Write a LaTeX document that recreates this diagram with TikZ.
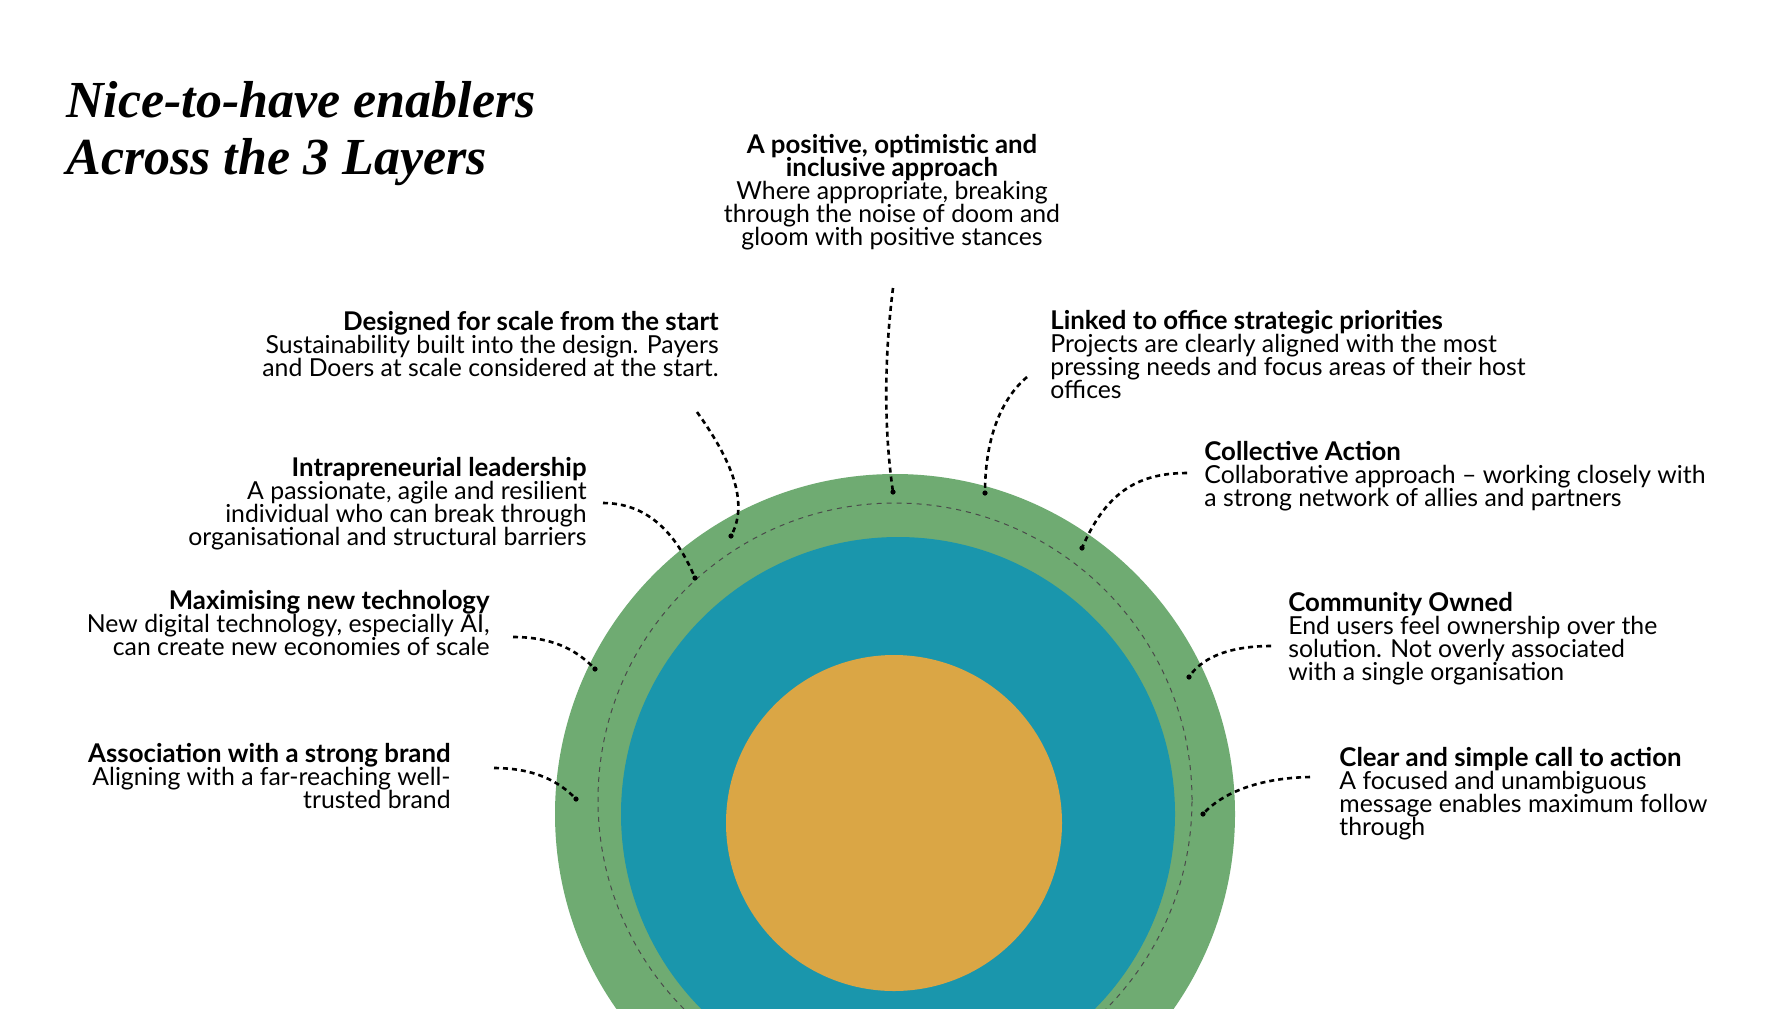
\documentclass[tikz,border=0pt]{standalone}
\usepackage{fontspec}
\setmainfont{Lato}
\newfontfamily\titlefont{Liberation Serif}
\usetikzlibrary{positioning}
\definecolor{ringgreen}{HTML}{6FAB72}
\definecolor{ringblue}{HTML}{1A96AC}
\definecolor{coreorange}{HTML}{DAA645}
\definecolor{guidegray}{HTML}{4A4A4A}
\newcommand{\hd}[1]{{\fontsize{12.9}{11.43}\selectfont\bfseries #1}}
\lineskiplimit=-20pt
\begin{document}
\begin{tikzpicture}[x=0.5pt, y=-0.5pt,
  every node/.style={inner sep=0pt, font=\fontsize{12.4}{11.43}\selectfont},
  link/.style={line width=1.3pt, dash pattern=on 2.5pt off 2pt},
  guide/.style={guidegray, line width=0.5pt, dash pattern=on 2.5pt off 2.5pt}]
  \fill[white] (0,0) rectangle (1792,1008);
  \path[use as bounding box] (0,0) rectangle (1792,1008);
  % the three layers, cut off at the bottom edge
  \begin{scope}
    \clip (0,0) rectangle (1792,1008);
    \fill[ringgreen] (895,814) circle[radius=170pt];
    \fill[ringblue] (898,814) circle[radius=138.5pt];
    \fill[coreorange] (894,823) circle[radius=84pt];
    \draw[guide] (895,800) circle[radius=148.5pt];
  \end{scope}
  \node[anchor=north west, align=left, font=\titlefont\bfseries\itshape\fontsize{26}{28.5}\selectfont] (title) at (66,81) {Nice-to-have enablers\\Across the 3 Layers};
  \node[anchor=north, align=center] (positive) at (892,134) {\hd{A positive, optimistic and}\\\hd{inclusive approach}\\Where appropriate, breaking\\through the noise of doom and\\gloom with positive stances};
  \node[anchor=north east, align=right] (scale) at (719,311) {\hd{Designed for scale from the start}\\Sustainability built into the design. Payers\\and Doers at scale considered at the start.};
  \node[anchor=north west, align=left] (linked) at (1050,310) {\hd{Linked to office strategic priorities}\\Projects are clearly aligned with the most\\pressing needs and focus areas of their host\\offices};
  \node[anchor=north east, align=right] (intra) at (587,457) {\hd{Intrapreneurial leadership}\\A passionate, agile and resilient\\individual who can break through\\organisational and structural barriers};
  \node[anchor=north west, align=left] (collective) at (1204,441) {\hd{Collective Action}\\Collaborative approach – working closely with\\a strong network of allies and partners};
  \node[anchor=north east, align=right] (tech) at (490,590) {\hd{Maximising new technology}\\New digital technology, especially AI,\\can create new economies of scale};
  \node[anchor=north west, align=left] (community) at (1288,592) {\hd{Community Owned}\\End users feel ownership over the\\solution. Not overly associated\\with a single organisation};
  \node[anchor=north east, align=right] (brand) at (451,743) {\hd{Association with a strong brand}\\Aligning with a far-reaching well-\\trusted brand};
  \node[anchor=north west, align=left] (action) at (1339,747) {\hd{Clear and simple call to action}\\A focused and unambiguous\\message enables maximum follow\\through};
  % leader lines, each ending in a dot on the outer ring
  \coordinate (positive-a) at (893,288); \coordinate (positive-b) at (893,492);
  \coordinate (scale-a) at (697,412); \coordinate (scale-b) at (731,536);
  \coordinate (intra-a) at (603,503); \coordinate (intra-b) at (695,578);
  \coordinate (tech-a) at (513,637); \coordinate (tech-b) at (595,669);
  \coordinate (brand-a) at (494,768); \coordinate (brand-b) at (576,799);
  \coordinate (linked-a) at (1027,377); \coordinate (linked-b) at (985,493);
  \coordinate (collective-a) at (1187,473); \coordinate (collective-b) at (1082,548);
  \coordinate (community-a) at (1271,646); \coordinate (community-b) at (1189,677);
  \coordinate (action-a) at (1310,777); \coordinate (action-b) at (1203,814);
  \draw[link] (positive-a) .. controls (884,360) and (884,430) .. (positive-b);
  \draw[link] (scale-a) .. controls (735,465) and (748,505) .. (scale-b);
  \draw[link] (intra-a) .. controls (645,503) and (675,530) .. (intra-b);
  \draw[link] (tech-a) .. controls (550,637) and (575,648) .. (tech-b);
  \draw[link] (brand-a) .. controls (535,768) and (560,782) .. (brand-b);
  \draw[link] (linked-a) .. controls (1000,400) and (985,440) .. (linked-b);
  \draw[link] (collective-a) .. controls (1135,473) and (1105,495) .. (collective-b);
  \draw[link] (community-a) .. controls (1225,646) and (1200,660) .. (community-b);
  \draw[link] (action-a) .. controls (1255,778) and (1220,795) .. (action-b);
  \foreach \n in {positive,scale,intra,tech,brand,linked,collective,community,action}
    \fill (\n-b) circle[radius=1.3pt];
\end{tikzpicture}
\end{document}
